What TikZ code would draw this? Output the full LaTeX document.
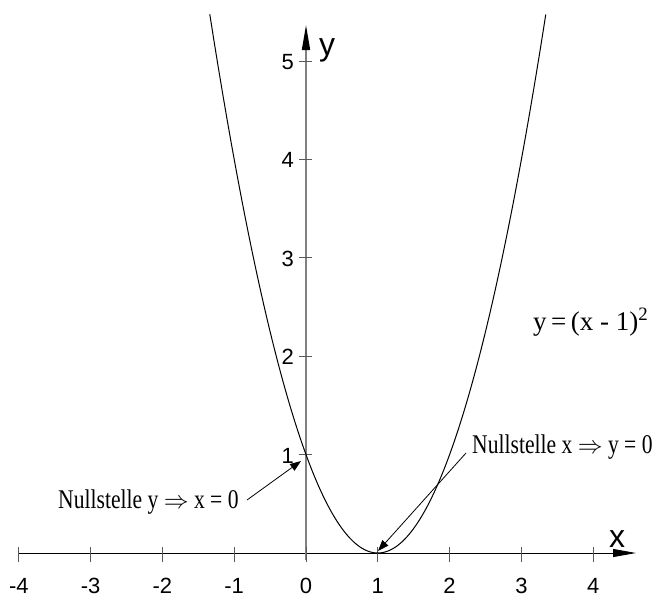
\documentclass[tikz,border=0pt]{standalone}
\usepackage{fontspec}
\usepackage{graphicx}
\setmainfont{Liberation Serif}
\setsansfont{Liberation Sans}
\usetikzlibrary{arrows.meta}
\newcommand\condensed[1]{\scalebox{0.8}[1]{#1}}
\newcommand\wideimp{\scalebox{1.25}[1]{$\Rightarrow$}}
\begin{document}
\begin{tikzpicture}[x=1pt,y=-1pt,
  tickmark/.style={draw=black!65, line width=0.8pt},
  ticklab/.style={font=\sffamily\fontsize{22}{22}\selectfont, inner sep=0pt},
  axlab/.style={font=\sffamily\fontsize{32}{32}\selectfont, inner sep=0pt, anchor=base},
  note/.style={font=\fontsize{27}{27}\selectfont, inner sep=0pt, anchor=base west},
  pointer/.style={draw=black, line width=0.8pt, -{Triangle[length=11pt,width=8pt]}},
  curve/.style={draw=black, line width=1pt}
]
\useasboundingbox (0,0) rectangle (656,598);
% axes
\coordinate (xs) at (18,553);
\coordinate (xe) at (636,553);
\coordinate (ys) at (306,560);
\coordinate (ye) at (306,25);
\draw[line width=0.9pt, -{Triangle[length=23pt,width=8pt]}] (xs) -- (xe);
\draw[draw=black!50, line width=1.6pt, -{Triangle[length=25pt,width=8pt,black]}] (ys) -- (ye);
% x ticks
\foreach \k in {-4,-3,-2,-1,0,1,2,3,4} {
  \draw[tickmark] ({306+71.8*\k},547) -- ({306+71.8*\k},562);
  \node[ticklab, anchor=base] (xl\k) at ({306+71.8*\k},593) {\k};
}
% y ticks
\foreach \k in {1,2,3,4,5} {
  \draw[tickmark] (299,{553-98.4*\k}) -- (312,{553-98.4*\k});
  \node[ticklab, anchor=east] (yl\k) at (294,{554-98.4*\k}) {\k};
}
\node[axlab] (xlab) at (617,547) {x};
\node[axlab] (ylab) at (327,55) {y};
% parabola
\draw[curve] plot[domain=-1.34:3.34, samples=120, smooth] ({306+71.8*\x},{553-98.4*(\x-1)*(\x-1)});
% labels
\node[note] (eq) at (533,330) {y\,=\,(x - 1)\textsuperscript{2}};
\node[note] (nly) at (58,508) {\condensed{Nullstelle y \wideimp{} x = 0}};
\node[note] (nlx) at (472,453) {\condensed{Nullstelle x \wideimp{} y = 0}};
% pointers
\coordinate (ay0) at (247,500);
\coordinate (ay1) at (301,461);
\coordinate (ax0) at (466,453);
\coordinate (ax1) at (378,551);
\draw[pointer] (ay0) -- (ay1);
\draw[pointer] (ax0) -- (ax1);
\end{tikzpicture}
\end{document}
